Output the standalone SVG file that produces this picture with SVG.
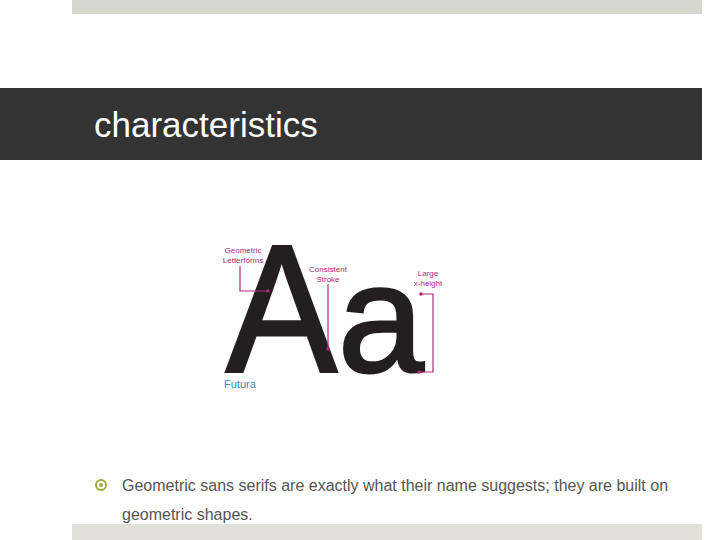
<svg xmlns="http://www.w3.org/2000/svg" width="720" height="540" viewBox="0 0 720 540">
  <style>
    .lbl { font-family: "Liberation Sans", Arial, sans-serif; font-size: 8px; fill: #b0287a; text-anchor: middle; }
    .ann { stroke: #b0287a; stroke-width: 1.2; fill: none; }
    .dot { fill: #b0287a; }
    .glyph { font-family: "Liberation Sans", Arial, sans-serif; fill: #231f20; stroke: #231f20; stroke-width: 3; }
    .body { font-family: "Liberation Sans", Arial, sans-serif; font-size: 16px; fill: #555555; }
  </style>
  <rect width="720" height="540" fill="#ffffff"/>
  <g id="top-bar"><rect x="72" y="0" width="630" height="14" fill="#d6d8cf"/></g>
  <g id="title-bar">
    <rect x="0" y="88" width="702" height="72" fill="#333333"/>
    <text x="94" y="137" font-family="Liberation Sans, Arial, sans-serif" font-size="35" fill="#ffffff">characteristics</text>
  </g>
  <g id="illustration">
    <text class="glyph" transform="translate(226,372) scale(0.92,1)" font-size="181">A</text>
    <text class="glyph" x="338" y="372" font-size="154">a</text>
    <text x="224" y="388" font-family="Liberation Sans, Arial, sans-serif" font-size="11" fill="#3b8dbd">Futura</text>
  </g>
  <g id="connectors">
    <path class="ann" d="M240,266 V291 H267"/>
    <circle class="dot" cx="268" cy="291" r="1.8"/>
    <path class="ann" d="M328,284 V349"/>
    <circle class="dot" cx="328" cy="349" r="1.8"/>
    <path class="ann" d="M421,294 H433 V372 H419"/>
    <circle class="dot" cx="421" cy="294" r="1.8"/>
    <circle class="dot" cx="419" cy="372" r="1.8"/>
  </g>
  <g id="label-geometric">
    <text class="lbl" x="243" y="253">Geometric</text>
    <text class="lbl" x="243" y="263">Letterforms</text>
  </g>
  <g id="label-stroke">
    <text class="lbl" x="328" y="272">Consistent</text>
    <text class="lbl" x="328" y="282">Stroke</text>
  </g>
  <g id="label-xheight">
    <text class="lbl" x="428" y="276">Large</text>
    <text class="lbl" x="428" y="286">x-height</text>
  </g>
  <g id="bullet">
    <circle cx="101" cy="485" r="5" fill="none" stroke="#9aaa3a" stroke-width="2"/>
    <circle cx="101" cy="485" r="2" fill="#9aaa3a"/>
    <text class="body" x="122" y="491">Geometric sans serifs are exactly what their name suggests; they are built on</text>
    <text class="body" x="122" y="520">geometric shapes.</text>
  </g>
  <g id="bottom-bar"><rect x="72" y="524" width="630" height="16" fill="#e1e1da"/></g>
</svg>
